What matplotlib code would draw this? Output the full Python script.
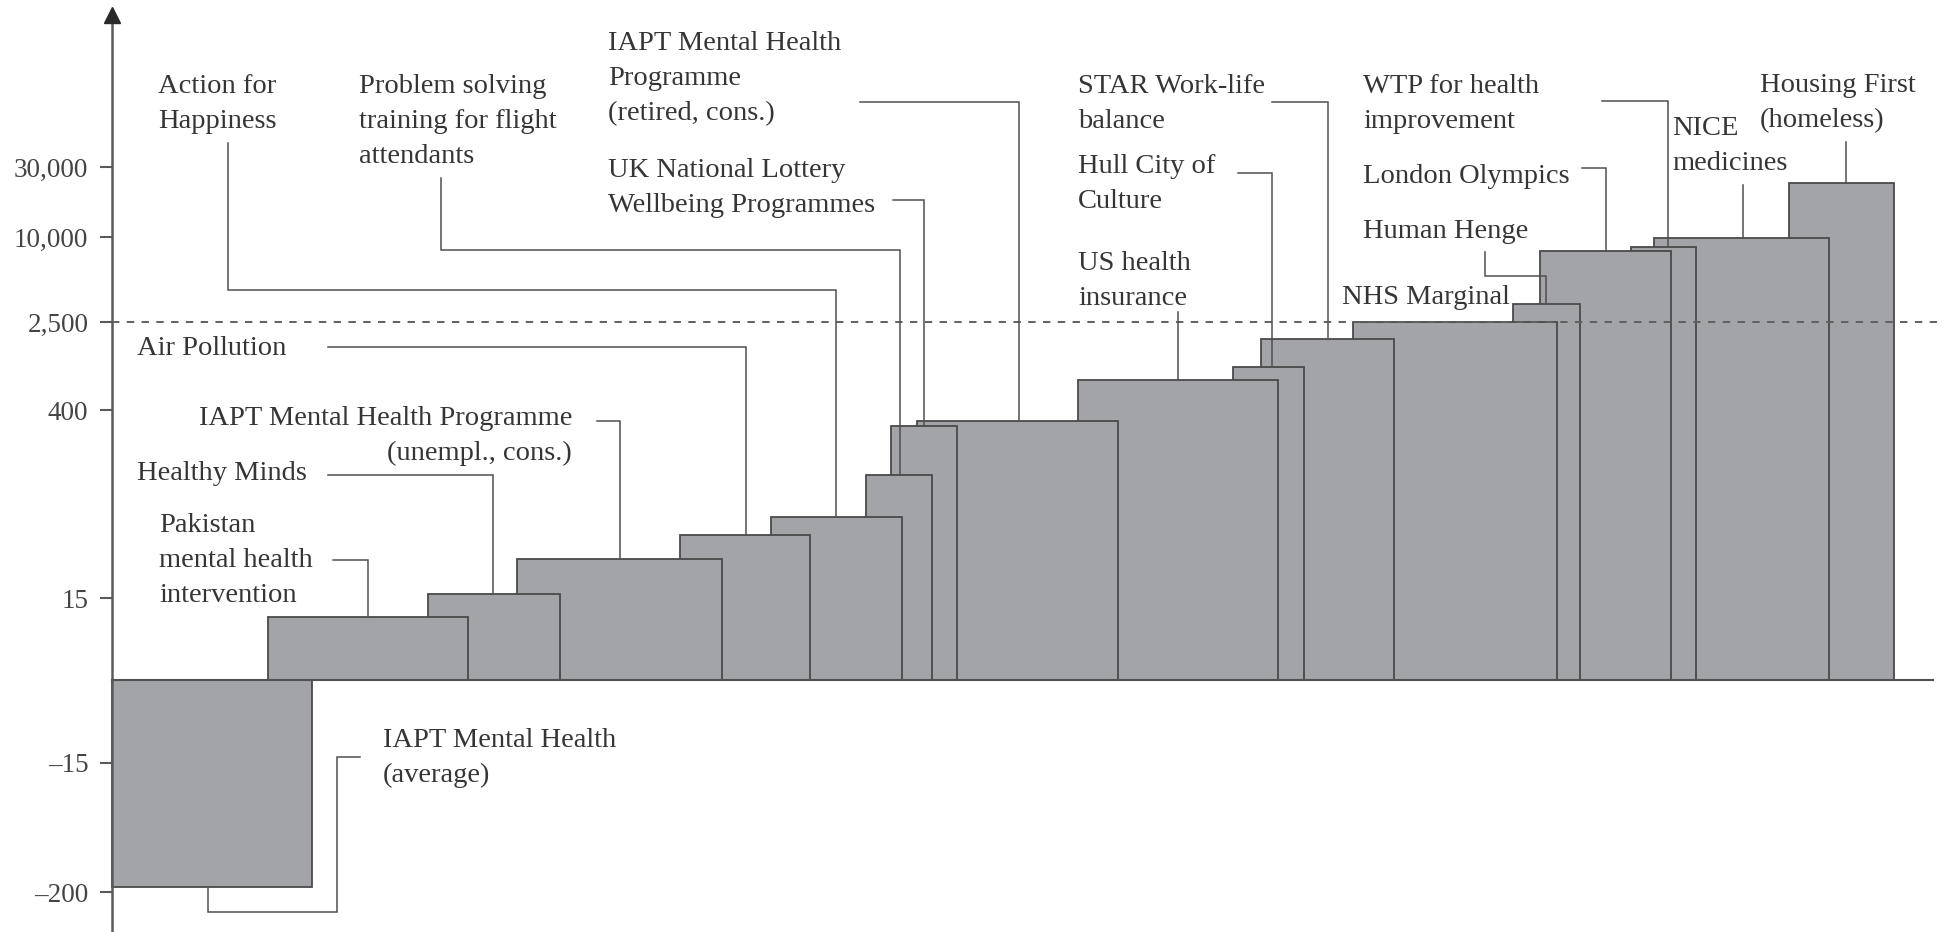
import numpy as np
import matplotlib
matplotlib.use('Agg')
import matplotlib.pyplot as plt

plt.rcParams['font.family'] = ['Liberation Serif', 'DejaVu Serif']

# programmes, left to right (x extent in chart units, value = height on the odd y scale)
bar_labels = [
    'IAPT Mental Health\n(average)',
    'Pakistan\nmental health\nintervention',
    'Healthy Minds',
    'IAPT Mental Health Programme\n(unempl., cons.)',
    'Air Pollution',
    'Action for\nHappiness',
    'Problem solving\ntraining for flight\nattendants',
    'UK National Lottery\nWellbeing Programmes',
    'IAPT Mental Health\nProgramme\n(retired, cons.)',
    'US health\ninsurance',
    'Hull City of\nCulture',
    'STAR Work-life\nbalance',
    'NHS Marginal',
    'Human Henge',
    'London Olympics',
    'WTP for health\nimprovement',
    'NICE\nmedicines',
    'Housing First\n(homeless)',
]
x_start = [0, 15.6, 31.6, 40.5, 56.8, 65.9, 75.4, 77.9, 80.5, 96.6,
           112.1, 114.9, 124.1, 140.1, 142.8, 151.9, 154.2, 167.7]
widths = [20.0, 20.0, 13.2, 20.5, 13.0, 13.1, 6.6, 6.6, 20.1, 20.0,
          7.1, 13.3, 20.4, 6.7, 13.1, 6.5, 17.5, 10.5]
values = [-180, 7.5, 16, 30, 46, 63, 130, 304, 331, 747,
          980, 1755, 2500, 3350, 7960, 8500, 9840, 23300]

tick_values = [-200, -15, 15, 400, 2500, 10000, 30000]
tick_labels = ['\u2013200', '\u201315', '15', '400', '2,500', '10,000', '30,000']
threshold = 2500

# the y axis is not linear: ticks sit at hand-placed heights (pixels above zero)
knot_vals = np.array([-200, -15, 0, 15, 400, 2500, 10000, 30000], float)
knot_pos = np.array([-212, -83, 0, 82, 270, 358, 443, 513], float)
knot_t = np.sign(knot_vals) * np.log10(1 + np.abs(knot_vals))


def extrap(x, xp, fp):
    x = np.asarray(x, float)
    y = np.interp(x, xp, fp)
    lo = (fp[1] - fp[0]) / (xp[1] - xp[0])
    hi = (fp[-1] - fp[-2]) / (xp[-1] - xp[-2])
    y = np.where(x < xp[0], fp[0] + (x - xp[0]) * lo, y)
    y = np.where(x > xp[-1], fp[-1] + (x - xp[-1]) * hi, y)
    return y


def fwd(v):
    v = np.asarray(v, float)
    t = np.sign(v) * np.log10(1 + np.abs(v))
    return extrap(t, knot_t, knot_pos)


def inv(p):
    t = extrap(p, knot_pos, knot_t)
    return np.sign(t) * (10 ** np.abs(t) - 1)


W, H, DPI = 1948, 932, 100
ZERO = 680  # pixel row of the zero line

fig = plt.figure(figsize=(W / DPI, H / DPI), dpi=DPI)
ax = fig.add_axes([0, 0, 1, 1])
ax.set_yscale('function', functions=(fwd, inv))
ax.set_xlim(-11.2, (W - 112) / 10)
ax.set_ylim(inv(ZERO - H), inv(ZERO))

fill = '#a3a4a8'
edge = '#4a4a4a'
ink = '#353535'
line_c = '#505050'

# leftmost bars sit on top
for i in reversed(range(len(values))):
    ax.bar(x_start[i], values[i], width=widths[i], align='edge', color=fill,
           edgecolor=edge, linewidth=1.3, zorder=2)

ax.plot([0, 182.1], [0, 0], color=line_c, lw=1.5, zorder=3)
ax.plot([0, 183.1], [threshold, threshold], color='#606060', lw=1.4,
        ls=(0, (3.8, 3.8)), zorder=4)

for s in ['top', 'right', 'bottom']:
    ax.spines[s].set_visible(False)
ax.spines['left'].set_position(('data', 0))
ax.spines['left'].set_bounds(inv(ZERO - H), inv(ZERO - 22))
ax.spines['left'].set_color('#5a5a5a')
ax.spines['left'].set_linewidth(1.8)
ax.plot(0, inv(ZERO - 15), marker='^', ms=12, color='#2a2a2a', clip_on=False, zorder=6)

ax.set_xticks([])
ax.set_yticks(tick_values, tick_labels)
ax.tick_params(axis='y', direction='out', length=9, width=1.5, color='#5a5a5a',
               pad=8, labelsize=19.5, labelcolor='#444444')


def px2data(px, py):
    return ax.transData.inverted().transform((px, H - py))


# label placement: bar index, text x, first baseline, alignment, leader route (pixels)
notes = [
    (0, 383, 747, 'left', [(360, 757), (337, 757), (337, 912), (208, 912)]),
    (1, 159, 532, 'left', [(333, 560), (368, 560)]),
    (2, 137, 480, 'left', [(328, 475), (493, 475)]),
    (3, 572, 425, 'right', [(597, 421), (620, 421)]),
    (4, 137, 355, 'left', [(328, 347), (746, 347)]),
    (5, 158, 93, 'left', [(228, 143), (228, 290), (836, 290)]),
    (6, 359, 93, 'left', [(441, 178), (441, 250), (900, 250)]),
    (7, 608, 177, 'left', [(893, 200), (924, 200)]),
    (8, 608, 50, 'left', [(860, 102), (1019, 102)]),
    (9, 1078, 270, 'left', [(1178, 312)]),
    (10, 1078, 173, 'left', [(1238, 173), (1272, 173)]),
    (11, 1078, 93, 'left', [(1272, 102), (1328, 102)]),
    (12, 1342, 304, 'left', None),
    (13, 1363, 238, 'left', [(1485, 252), (1485, 276), (1546, 276)]),
    (14, 1363, 183, 'left', [(1582, 168), (1606, 168)]),
    (15, 1363, 93, 'left', [(1602, 101), (1668, 101)]),
    (16, 1672, 135, 'left', [(1743, 185)]),
    (17, 1760, 92, 'left', [(1846, 142)]),
]

for idx, tx, ty, ha, route in notes:
    for k, line in enumerate(bar_labels[idx].split('\n')):
        xd, yd = px2data(tx, ty + 35 * k)
        ax.text(xd, yd, line, ha=ha, va='baseline', fontsize=20.5, color=ink, zorder=7)
    if route:
        pts = [px2data(x, y) for x, y in route]
        xs = [p[0] for p in pts] + [pts[-1][0]]
        ys = [p[1] for p in pts] + [values[idx]]
        ax.plot(xs, ys, color=line_c, lw=1.1, zorder=5, solid_joinstyle='miter')

fig.savefig('out.png', dpi=DPI, facecolor='white')
